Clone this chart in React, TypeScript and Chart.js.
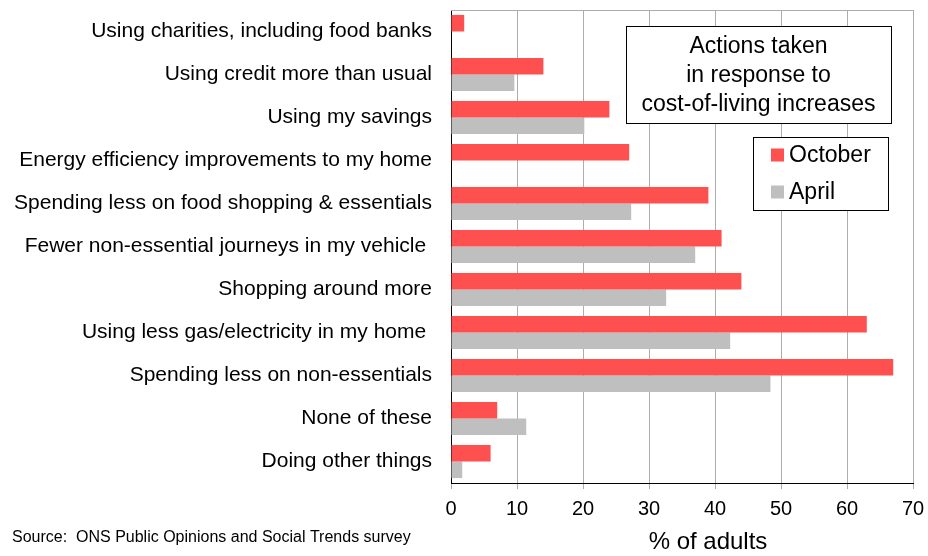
import React, { useEffect, useRef } from "react";
import { Chart, registerables } from "chart.js";

Chart.register(...registerables);

const categories = [
  "Using charities, including food banks",
  "Using credit more than usual",
  "Using my savings",
  "Energy efficiency improvements to my home",
  "Spending less on food shopping & essentials",
  "Fewer non-essential journeys in my vehicle ",
  "Shopping around more",
  "Using less gas/electricity in my home ",
  "Spending less on non-essentials",
  "None of these",
  "Doing other things",
];

const october = [2, 14, 24, 27, 39, 41, 44, 63, 67, 7, 6];
const april = [null, 9.6, 20.2, null, 27.3, 37, 32.6, 42.3, 48.4, 11.4, 1.7];

const seriesNames = ["October", "April"];
const seriesColors = ["#FF5050", "#BFBFBF"];
const titleLines = ["Actions taken", "in response to", "cost-of-living increases"];
const axisTitle = "% of adults";
const sourceText = "Source:  ONS Public Opinions and Social Trends survey";

const FONT = "'Liberation Sans', Arial, Helvetica, sans-serif";

const overlayPlugin = {
  id: "overlay",
  afterDraw(chart: any) {
    const ctx = chart.ctx as CanvasRenderingContext2D;
    const ca = chart.chartArea;
    ctx.save();
    // top border of plot area
    ctx.strokeStyle = "#ADADAD";
    ctx.lineWidth = 1;
    ctx.beginPath();
    ctx.moveTo(ca.left, Math.round(ca.top) + 0.5);
    ctx.lineTo(ca.right, Math.round(ca.top) + 0.5);
    ctx.stroke();

    // title box
    ctx.fillStyle = "#fff";
    ctx.fillRect(626, 26, 265, 97);
    ctx.strokeStyle = "#000";
    ctx.strokeRect(626.5, 26.5, 265, 97);
    ctx.fillStyle = "#000";
    ctx.font = `23px ${FONT}`;
    ctx.textAlign = "center";
    ctx.textBaseline = "middle";
    titleLines.forEach((t, i) => ctx.fillText(t, 758.5, 47 + i * 29));

    // legend box
    ctx.fillStyle = "#fff";
    ctx.fillRect(753, 137, 135, 73);
    ctx.strokeStyle = "#000";
    ctx.strokeRect(753.5, 137.5, 135, 73);
    ctx.textAlign = "left";
    seriesNames.forEach((n, i) => {
      const cy = 155 + i * 37;
      ctx.fillStyle = seriesColors[i];
      ctx.fillRect(771, cy - 6.5, 13, 13);
      ctx.fillStyle = "#000";
      ctx.font = `23px ${FONT}`;
      ctx.fillText(n, 789, cy + 1);
    });

    // axis title
    ctx.textAlign = "center";
    ctx.font = `24px ${FONT}`;
    ctx.fillText(axisTitle, 708, 542);

    // source
    ctx.textAlign = "left";
    ctx.font = `16px ${FONT}`;
    ctx.fillText(sourceText, 12, 538);
    ctx.restore();
  },
};

export default function App() {
  const ref = useRef<HTMLCanvasElement | null>(null);

  useEffect(() => {
    document.body.style.margin = "0";
    const canvas = ref.current;
    if (!canvas) return;
    const chart = new Chart(canvas, {
      type: "bar",
      data: {
        labels: categories,
        datasets: [
          {
            label: seriesNames[0],
            data: october,
            backgroundColor: seriesColors[0],
            borderWidth: 0,
          },
          {
            label: seriesNames[1],
            data: april as any,
            backgroundColor: seriesColors[1],
            borderWidth: 0,
          },
        ],
      },
      options: {
        indexAxis: "y",
        animation: false,
        responsive: false,
        devicePixelRatio: 1,
        layout: { padding: { top: 10, right: 15, left: 0, bottom: 0 } },
        datasets: {
          bar: { categoryPercentage: 0.77, barPercentage: 1 },
        },
        plugins: {
          legend: { display: false },
          tooltip: { enabled: false },
          title: { display: false },
        },
        scales: {
          x: {
            min: 0,
            max: 70,
            ticks: {
              stepSize: 10,
              color: "#000",
              font: { family: FONT, size: 20 },
              padding: 8,
              maxRotation: 0,
            },
            grid: {
              color: "#ADADAD",
              tickColor: "#ADADAD",
              tickLength: 6,
              lineWidth: 1,
            },
            border: { display: true, color: "#000", width: 1 },
            afterFit: (scale: any) => {
              scale.height = 73;
              scale.paddingLeft = 0;
              scale.paddingRight = 0;
            },
          },
          y: {
            ticks: {
              color: "#000",
              font: { family: FONT, size: 21 },
              padding: 19,
              autoSkip: false,
            },
            grid: { color: "rgba(0,0,0,0)", drawTicks: false },
            border: { display: true, color: "#000", width: 1 },
            afterFit: (scale: any) => {
              scale.width = 451;
              scale.paddingTop = 0;
              scale.paddingBottom = 0;
            },
          },
        },
      },
      plugins: [overlayPlugin],
    });
    return () => chart.destroy();
  }, []);

  return (
    <div style={{ width: 928, height: 556 }}>
      <canvas ref={ref} width={928} height={556} style={{ display: "block" }} />
    </div>
  );
}
